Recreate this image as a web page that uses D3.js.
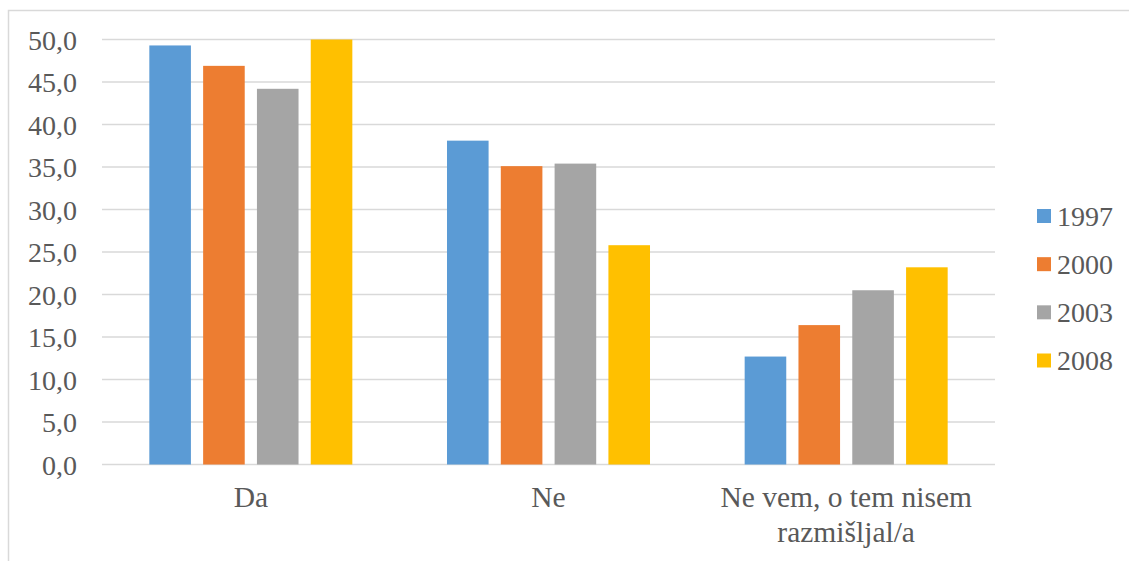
<!DOCTYPE html>
<html><head><meta charset="utf-8">
<script src="https://cdn.jsdelivr.net/npm/d3@7"></script>
<style>html,body{margin:0;padding:0;background:#fff;overflow:hidden}</style>
</head><body>
<svg id="c" width="1129" height="561"></svg>
<script>
const categories = ["Da", "Ne", "Ne vem, o tem nisem razmišljal/a"];
const categoryLines = [["Da"], ["Ne"], ["Ne vem, o tem nisem", "razmišljal/a"]];
const seriesNames = ["1997", "2000", "2003", "2008"];
const v1997 = [49.3, 38.1, 12.7];
const v2000 = [46.9, 35.1, 16.4];
const v2003 = [44.2, 35.4, 20.5];
const v2008 = [50.0, 25.8, 23.2];
const yTicks = [0, 5, 10, 15, 20, 25, 30, 35, 40, 45, 50];
const colors = ["#5B9BD5", "#ED7D31", "#A5A5A5", "#FFC000"];

(function () {
const seriesValues = [v1997, v2000, v2003, v2008];
const svg = d3.select("#c");
const textColor = "#595959";
const fs = 28;

// outer frame (cropped on right and bottom)
svg.append("path").attr("d", "M8.5,1129 L8.5,10.5 L1129,10.5")
  .attr("fill", "none").attr("stroke", "#d9d9d9").attr("stroke-width", 1.5);

const pLeft = 102, pRight = 995, pTop = 39.5, pBottom = 464.5;
const y = d3.scaleLinear().domain([0, 50]).range([pBottom, pTop]);
const x0 = d3.scaleBand().domain(categories).range([pLeft, pRight]).paddingInner(0.318).paddingOuter(0.159);
const x1 = d3.scaleBand().domain(seriesNames).range([0, x0.bandwidth()]).paddingInner(0.227).paddingOuter(0);

// gridlines
svg.append("g").selectAll("line").data(yTicks).join("line")
  .attr("x1", pLeft).attr("x2", pRight)
  .attr("y1", d => y(d)).attr("y2", d => y(d))
  .attr("stroke", "#d9d9d9").attr("stroke-width", 1.5);

// y axis labels
const yAxis = d3.axisLeft(y).tickValues(yTicks).tickSize(0).tickPadding(0)
  .tickFormat(d => d.toFixed(1).replace(".", ","));
const ya = svg.append("g").attr("transform", `translate(77,0)`).call(yAxis);
ya.select(".domain").remove();
ya.attr("font-family", "Liberation Serif").attr("font-size", fs);
ya.selectAll("text").attr("font-family", "Liberation Serif").attr("font-size", fs).attr("fill", textColor).attr("dy", "0.34em");

// bars
const groups = svg.append("g").selectAll("g").data(categories).join("g")
  .attr("transform", d => `translate(${x0(d)},0)`);
groups.selectAll("rect").data((d, i) => seriesNames.map((s, j) => ({s, j, v: seriesValues[j][i]}))).join("rect")
  .attr("x", d => x1(d.s)).attr("width", x1.bandwidth())
  .attr("y", d => y(d.v)).attr("height", d => y(0) - y(d.v))
  .attr("fill", d => colors[d.j]);

// x labels
const xl = svg.append("g");
categories.forEach((c, i) => {
  const cx = x0(c) + x0.bandwidth() / 2;
  categoryLines[i].forEach((ln, k) => {
    xl.append("text").attr("x", cx).attr("y", 507 + k * 35)
      .attr("text-anchor", "middle").attr("font-family", "Liberation Serif").attr("font-size", 29.5)
      .attr("fill", textColor).text(ln);
  });
});

// legend
const ly = d3.scalePoint().domain(seriesNames).range([216, 360.5]);
const lg = svg.append("g").selectAll("g").data(seriesNames).join("g")
  .attr("transform", d => `translate(1037,${ly(d)})`);
lg.append("rect").attr("x", 0).attr("y", -7).attr("width", 14).attr("height", 14)
  .attr("fill", (d, i) => colors[i]);
lg.append("text").attr("x", 20).attr("y", 9.5)
  .attr("font-family", "Liberation Serif").attr("font-size", fs).attr("fill", textColor).text(d => d);
})();
</script>
</body></html>
